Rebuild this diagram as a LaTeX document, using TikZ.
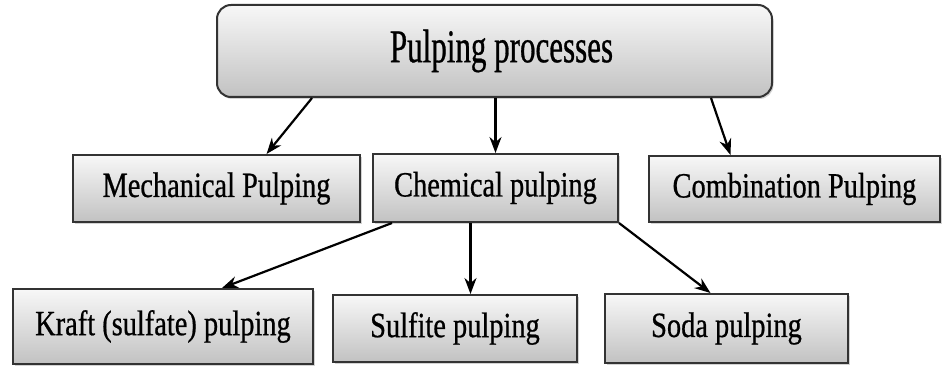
\documentclass[tikz,border=0pt]{standalone}
\usepackage{fontspec}
\setmainfont{Liberation Serif}
\newfontfamily\labelfont[FakeStretch=0.8, FakeBold=0.6]{Liberation Serif}
\newfontfamily\titlefont[FakeStretch=0.66, FakeBold=0.6]{Liberation Serif}
\usetikzlibrary{arrows.meta, shadows}

\begin{document}
\begin{tikzpicture}[x=1pt, y=-1pt,
    procbox/.style={draw=black!80, line width=2pt, top color=black!3, bottom color=black!24,
      drop shadow={shadow xshift=1.5pt, shadow yshift=-2pt, opacity=0.35},
      inner sep=0pt, font=\labelfont\fontsize{35.5}{38}\selectfont},
    link/.style={line width=2.2pt, -{Stealth[length=16pt, width=12pt]}}]
  \useasboundingbox (0,0) rectangle (943,366);

  % root
  \node[procbox, rounded corners=14pt, minimum width=555pt, minimum height=92pt,
        font=\titlefont\fontsize{47}{50}\selectfont] (main) at (494.5,51) {\hspace{14pt}Pulping processes};

  % first level
  \node[procbox, minimum width=287pt, minimum height=67pt] (mech) at (216.5,188.5) {Mechanical Pulping};
  \node[procbox, minimum width=245pt, minimum height=68pt] (chem) at (495.5,188) {Chemical pulping};
  \node[procbox, minimum width=291pt, minimum height=66pt] (comb) at (794.5,189) {Combination Pulping};

  % chemical routes
  \node[procbox, minimum width=300pt, minimum height=75pt] (kraft) at (163,326.5) {Kraft (sulfate) pulping};
  \node[procbox, minimum width=244pt, minimum height=67pt] (sulf) at (455,328.5) {Sulfite pulping};
  \node[procbox, minimum width=243pt, minimum height=69pt] (soda) at (726.5,328.5) {Soda pulping};

  % arrows
  \draw[link] ([xshift=96pt]main.south west) -- ([xshift=50pt]mech.north);
  \draw[link] (chem.north |- main.south) -- (chem.north);
  \draw[link] ([xshift=-62pt]main.south east) -- ([xshift=-64pt]comb.north);
  \draw[link] ([xshift=20pt]chem.south west) -- ([xshift=59pt]kraft.north);
  \draw[link] ([xshift=-25pt]chem.south) -- ([xshift=-25pt]chem.south |- sulf.north);
  \draw[link] (chem.south east) -- ([xshift=-16pt]soda.north);
\end{tikzpicture}
\end{document}
